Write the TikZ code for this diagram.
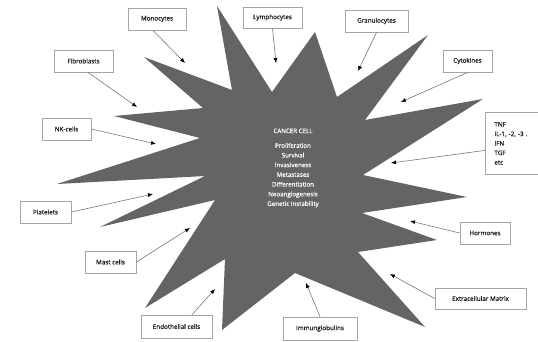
\documentclass[tikz,border=0pt]{standalone}
\usepackage{fontspec}
\setmainfont{Open Sans}
\newfontfamily\lblfont{Open Sans}[FakeBold=0.5]
\usetikzlibrary{arrows.meta}
\definecolor{stargray}{RGB}{99,100,102}
\definecolor{boxgray}{RGB}{165,165,165}
\definecolor{linegray}{RGB}{120,120,120}
\definecolor{txt}{RGB}{30,30,30}
\tikzset{
  lbl/.style={draw=boxgray, line width=0.8pt, fill=white, text=txt,
    font=\lblfont\fontsize{6.3}{9.5}\selectfont, minimum height=22pt, inner sep=2pt},
  conn/.style={draw=linegray, line width=0.6pt,
    -{Latex[length=5pt,width=4pt,color=black]}},
}
\begin{document}
\begin{tikzpicture}[x=1pt,y=-1pt]
\useasboundingbox (0,0) rectangle (538,342);
% star (cancer cell)
\fill[stargray] (217,6) -- (272,92) -- (315,32) -- (337,97) -- (428,35)
  -- (365,120) -- (483,99) -- (363,175) -- (467,197) -- (362,213)
  -- (437,240) -- (358,252) -- (425,327) -- (295,273) -- (222,330)
  -- (225,259) -- (145,308) -- (215,200) -- (100,227) -- (205,176)
  -- (57,184) -- (200,138) -- (114,116) -- (203,108) -- (144,57)
  -- (232,90) -- cycle;
\node[text=white, align=center, font=\lblfont\fontsize{6.2}{9.7}\selectfont] (cc) at (293,168)
  {CANCER CELL\\[5pt]Proliferation\\Survival\\Invasiveness\\Metastases\\Differentiation\\Neoangiogenesis\\Genetic Instability};
% labels
\node[lbl, minimum width=58pt] (mono) at (157,19) {Monocytes};
\node[lbl, minimum width=59pt, minimum height=21pt] (lymph) at (272.5,17.5) {Lymphocytes};
\node[lbl, minimum width=63pt] (gran) at (376.5,21) {Granulocytes};
\node[lbl, minimum width=49pt] (cyto) at (467.5,61) {Cytokines};
\node[lbl, minimum width=59pt] (fibro) at (83.5,61) {Fibroblasts};
\node[lbl, minimum width=49pt] (nk) at (66.5,129) {NK-cells};
\node[lbl, minimum width=51pt] (plate) at (45.5,212) {Platelets};
\node[lbl, minimum width=51pt] (mast) at (110.5,262) {Mast cells};
\node[lbl, minimum width=71pt, minimum height=23pt] (endo) at (176.5,326.5) {Endothelial cells};
\node[lbl, minimum width=74pt, minimum height=23pt] (immun) at (320,328.5) {Immunglobulins};
\node[lbl, minimum width=91pt, minimum height=21pt] (extra) at (480.5,298.5) {Extracellular Matrix};
\node[lbl, minimum width=50pt] (horm) at (485,233) {Hormones};
\node[lbl, anchor=north west, align=left, text width=40pt, inner xsep=9pt, inner ysep=5pt,
  minimum height=62pt] (tnf) at (485,112) {TNF\\IL-1, -2, -3 .\\IFN\\TGF\\etc};
% arrow targets
\coordinate (tmono) at (185,63);
\coordinate (tlymph) at (276,63);
\coordinate (tgran) at (358,71);
\coordinate (tcyto) at (401,102);
\coordinate (tfibro) at (137,107);
\coordinate (tnk) at (156,144);
\coordinate (ttnf) at (391,163);
\coordinate (tplate) at (153,194);
\coordinate (tmast) at (190,228);
\coordinate (tendo) at (215,289);
\coordinate (timmun) at (306,283);
\coordinate (textra) at (390,274);
\coordinate (thorm) at (410,221);
% connectors
\draw[conn] ([xshift=-4pt]mono.south) -- (tmono);
\draw[conn] (lymph.south) -- (tlymph);
\draw[conn] (gran.south) -- (tgran);
\draw[conn] (cyto.south) -- (tcyto);
\draw[conn] ([xshift=4.5pt]fibro.south) -- (tfibro);
\draw[conn] (nk.east) -- (tnk);
\draw[conn] ([yshift=-7pt]tnf.west) -- (ttnf);
\draw[conn] (plate.east) -- (tplate);
\draw[conn] (mast.east) -- (tmast);
\draw[conn] ([xshift=15.5pt]endo.north) -- (tendo);
\draw[conn] (immun.north) -- (timmun);
\draw[conn] (extra.west) -- (textra);
\draw[conn] (horm.west) -- (thorm);
\end{tikzpicture}
\end{document}
